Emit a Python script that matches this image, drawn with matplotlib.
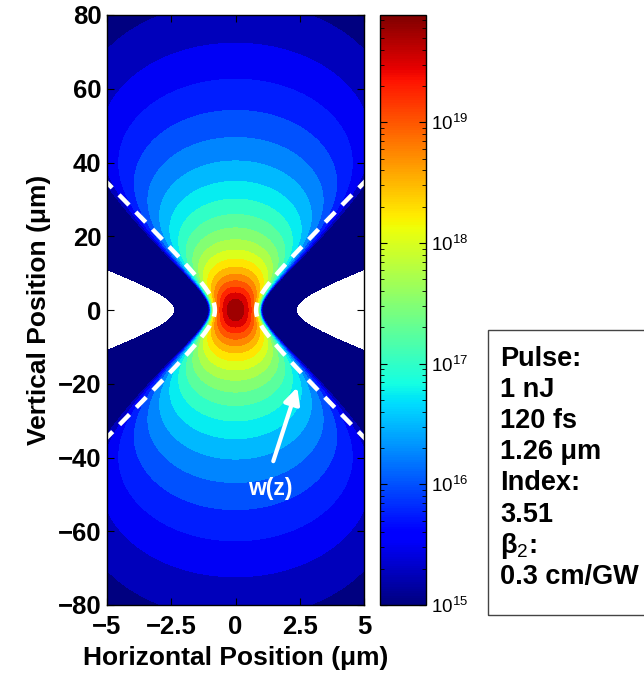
import numpy as np
import matplotlib
matplotlib.use("Agg")
import matplotlib.pyplot as plt
from matplotlib.colors import LogNorm, Normalize
from matplotlib.cm import ScalarMappable
from matplotlib.patches import Rectangle
from matplotlib.ticker import LogLocator

plt.rcParams['font.family'] = ['Liberation Sans', 'DejaVu Sans']
plt.rcParams['mathtext.fontset'] = 'custom'
plt.rcParams['mathtext.rm'] = 'Liberation Sans'
plt.rcParams['mathtext.it'] = 'Liberation Sans:italic'
plt.rcParams['mathtext.bf'] = 'Liberation Sans:bold'

# ---------------- physical / chart parameters -------------
wavelength_um = 1.26
refractive_index = 3.51
beam_waist_um = 0.8
peak_log10_density = 19.95          # log10(cm^-3) at focus
cbar_log_min = 15.0
cbar_log_max = 19.89
contour_step = 0.25                 # decades per filled band
profile_gauss_decades = 1.2         # decades lost at x = w(z) (gaussian part)
profile_edge_decades = 0.25         # steep edge term at x = w(z)
profile_edge_power = 10
white_tip_um = 2.37                 # x where the "below 1e15" region starts at z = 0
white_edge_scale_um = 5.9           # hyperbolic opening of that region

x_range_um = [-5, 5]
z_range_um = [-80, 80]
x_ticks = [-5, -2.5, 0, 2.5, 5]
x_tick_labels = ['\u22125', '\u22122.5', '0', '2.5', '5']
z_ticks = [-80, -60, -40, -20, 0, 20, 40, 60, 80]
z_tick_labels = ['\u221280', '\u221260', '\u221240', '\u221220', '0', '20', '40', '60', '80']
cbar_ticks = [1e15, 1e16, 1e17, 1e18, 1e19]
info_lines = ['Pulse:', '1 nJ', '120 fs', '1.26 \u03bcm', 'Index:', '3.51', '\u03b2$_2$:', '0.3 cm/GW']
arrow_tail = (1.47, -41.0)
arrow_head = (2.40, -21.0)
arrow_label = 'w(z)'
arrow_label_pos = (1.34, -48.3)

# ---------------- field -----------------------------------------------------------
rayleigh_um = np.pi * beam_waist_um ** 2 * refractive_index / wavelength_um
x = np.linspace(x_range_um[0], x_range_um[1], 201)
z = np.linspace(z_range_um[0], z_range_um[1], 641)
X, Z = np.meshgrid(x, z)
W = beam_waist_um * np.sqrt(1 + (Z / rayleigh_um) ** 2)
u = np.abs(X) / W
L_beam = (peak_log10_density + 4 * np.log10(beam_waist_um / W)
          - profile_gauss_decades * u ** 2 - profile_edge_decades * u ** profile_edge_power)
r = np.abs(X) / (white_tip_um * np.sqrt(1 + (Z / white_edge_scale_um) ** 2))
L_floor = cbar_log_min + 0.2 * (1 - r ** 2)
L = np.maximum(L_beam, L_floor)

levels = np.arange(cbar_log_min, 20.25 + 1e-9, contour_step)
cmap = plt.get_cmap('jet')
norm_lin = Normalize(cbar_log_min, cbar_log_max)
band_colors = [cmap(norm_lin(min(lv, cbar_log_max))) for lv in levels[:-1]]

# ---------------- figure ----------------------------------------------------------
W_PX, H_PX = 644, 675
fig = plt.figure(figsize=(W_PX / 100, H_PX / 100), dpi=100)

def fx(px):
    return px / W_PX

def fy(py):
    return 1 - py / H_PX

ax = fig.add_axes([fx(107), fy(605), fx(364) - fx(107), fy(15) - fy(605)])
ax.contourf(X, Z, L, levels=levels, colors=band_colors, antialiased=False)

# beam radius w(z), dashed white
zl = np.linspace(-45, 45, 600)
wl = beam_waist_um * np.sqrt(1 + (zl / rayleigh_um) ** 2)
for sgn in (1, -1):
    ax.plot(sgn * wl, zl, color='white', lw=3.2, dashes=(3.2, 2.2),
            dash_capstyle='butt')

ax.annotate('', xy=arrow_head, xytext=arrow_tail,
            arrowprops=dict(arrowstyle='-|>', color='white', lw=3.0, mutation_scale=24,
                            shrinkA=0, shrinkB=0))
ax.text(arrow_label_pos[0], arrow_label_pos[1], arrow_label, color='white', fontsize=16.5,
        fontweight='bold', ha='center', va='center')

ax.set_xlim(x_range_um)
ax.set_ylim(z_range_um)
ax.set_xticks(x_ticks)
ax.set_xticklabels(x_tick_labels)
ax.set_yticks(z_ticks)
ax.set_yticklabels(z_tick_labels)
ax.tick_params(direction='in', length=5, width=0.8, top=True, right=True, labelsize=18.5)
ax.tick_params(axis='x', pad=7.5)
ax.tick_params(axis='y', pad=4)
for lab in ax.get_xticklabels() + ax.get_yticklabels():
    lab.set_fontweight('bold')
ax.set_xlabel('Horizontal Position (\u03bcm)', fontsize=19, fontweight='bold', labelpad=5)
ax.set_ylabel('Vertical Position (\u03bcm)', fontsize=19, fontweight='bold', labelpad=5)
for sp in ax.spines.values():
    sp.set_linewidth(1.0)

# colorbar
cax = fig.add_axes([fx(380), fy(605), fx(426) - fx(380), fy(15) - fy(605)])
sm = ScalarMappable(norm=LogNorm(10 ** cbar_log_min, 10 ** cbar_log_max), cmap=cmap)
cb = fig.colorbar(sm, cax=cax)
cb.set_ticks(cbar_ticks)
cax.yaxis.set_minor_locator(LogLocator(base=10, subs=np.arange(2, 10)))
cax.tick_params(which='major', direction='in', length=5, width=0.8, left=True, right=True,
                labelsize=13.5)
cax.tick_params(which='minor', direction='in', length=3, width=0.6, left=True, right=True)
cb.outline.set_linewidth(1.0)

# info box
fig.add_artist(Rectangle((fx(488), fy(615)), 1.02 - fx(488), fy(330) - fy(615),
                         transform=fig.transFigure, fill=False, edgecolor='#444444', lw=1.0))
y0, dy = 359, 31.1
for i, line in enumerate(info_lines):
    fig.text(fx(500), fy(y0 + i * dy), line, fontsize=19.5, fontweight='bold',
             ha='left', va='center')

fig.savefig('out.png', dpi=100)
